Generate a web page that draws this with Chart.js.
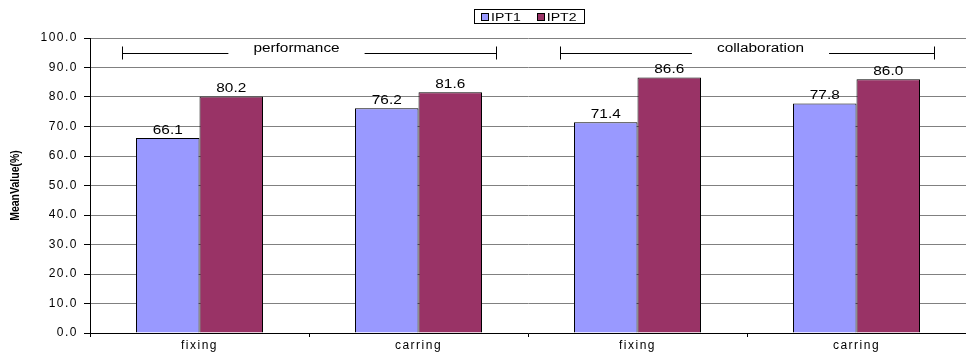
<!DOCTYPE html>
<html>
<head>
<meta charset="utf-8">
<script src="https://cdn.jsdelivr.net/npm/chart.js@4/dist/chart.umd.min.js"></script>
<style>
  html, body { margin: 0; padding: 0; background: #fff; overflow: hidden; }
  canvas { display: block; }
</style>
</head>
<body>
<canvas id="chart" width="966" height="354"></canvas>
<script>
// Mean values per task, before/after (IPT1 / IPT2)
const categories = ['fixing', 'carring', 'fixing', 'carring'];
const ipt1 = [66.1, 76.2, 71.4, 77.8];
const ipt2 = [80.2, 81.6, 86.6, 86.0];
const seriesNames = ['IPT1', 'IPT2'];
const groupNames = ['performance', 'collaboration'];
const groupSpans = [[0, 1], [2, 3]];
const yMin = 0, yMax = 100, yStep = 10;
const yTitle = 'MeanValue(%)';

const FONT = "'Liberation Sans', Arial, Helvetica, sans-serif";
const STRETCH = 1.28;              // glyphs are drawn a little wide
const COLORS = ['#9999FF', '#993366'];

function wideText(ctx, text, x, y, align, size, bold) {
  ctx.save();
  ctx.letterSpacing = '0px';
  ctx.font = (bold ? 'bold ' : '') + size + 'px ' + FONT;
  ctx.textAlign = 'left';
  ctx.textBaseline = 'alphabetic';
  const w = ctx.measureText(text).width * STRETCH;
  const x0 = align === 'center' ? x - w / 2 : align === 'right' ? x - w : x;
  ctx.translate(x0, y);
  ctx.scale(STRETCH, 1);
  ctx.fillStyle = '#000';
  ctx.fillText(text, 0, 0);
  ctx.restore();
  return w;
}

// Axis tick labels get extra tracking to match the wide lettering
const tracking = {
  id: 'tracking',
  beforeLayout(chart) { chart.ctx.letterSpacing = '1.5px'; },
  beforeDraw(chart) { chart.ctx.letterSpacing = '1.5px'; }
};

const annotate = {
  id: 'annotate',
  afterDatasetsDraw(chart, args, opts) {
    const ctx = chart.ctx;
    const xs = chart.scales.x, ys = chart.scales.y;

    // value labels above each bar
    chart.data.datasets.forEach((ds, i) => {
      chart.getDatasetMeta(i).data.forEach((bar, j) => {
        wideText(ctx, ds.data[j].toFixed(1), bar.x, bar.y - 4.5, 'center', 12);
      });
    });

    // group brackets
    const catW = xs.getPixelForValue(1) - xs.getPixelForValue(0);
    const lineY = Math.round(ys.getPixelForValue(opts.level)) + 0.5;
    ctx.save();
    ctx.strokeStyle = '#000';
    ctx.lineWidth = 1;
    groupNames.forEach((name, g) => {
      const [a, b] = groupSpans[g];
      const left = Math.round(xs.getPixelForValue(a) - catW / 2 + catW * opts.inset) + 0.5;
      const right = Math.round(xs.getPixelForValue(b) + catW / 2 - catW * opts.inset) + 0.5;
      const cx = (left + right) / 2 + opts.textShift[g];
      ctx.save(); ctx.letterSpacing = '0px'; ctx.font = '12px ' + FONT;
      const tw = ctx.measureText(name).width * STRETCH;
      ctx.restore();
      const gapL = cx - tw / 2 - opts.gap, gapR = cx + tw / 2 + opts.gap;
      ctx.beginPath();
      ctx.moveTo(left, lineY); ctx.lineTo(gapL, lineY);
      ctx.moveTo(gapR, lineY); ctx.lineTo(right, lineY);
      ctx.moveTo(left, lineY - 7); ctx.lineTo(left, lineY + 6);
      ctx.moveTo(right, lineY - 7); ctx.lineTo(right, lineY + 6);
      ctx.stroke();
      wideText(ctx, name, cx, lineY - 1.5, 'center', 12);
    });
    ctx.restore();
  },
  afterDraw(chart) {
    const ctx = chart.ctx;
    const area = chart.chartArea;

    // y-axis title
    ctx.save();
    ctx.letterSpacing = '0px';
    ctx.translate(16, (area.top + area.bottom) / 2);
    ctx.rotate(-Math.PI / 2);
    ctx.scale(1, 1.15);
    ctx.font = 'bold 10.5px ' + FONT;
    ctx.textAlign = 'center';
    ctx.textBaseline = 'middle';
    ctx.fillStyle = '#000';
    ctx.fillText(yTitle, 0, 0);
    ctx.restore();

    // legend box
    ctx.save();
    ctx.letterSpacing = '0px';
    ctx.font = '11px ' + FONT;
    let x = 481;
    const top = 9.5, h = 14;
    const items = chart.data.datasets.map((ds) => {
      const item = { x, color: ds.backgroundColor, label: ds.label };
      x += 7 + 3 + ctx.measureText(ds.label).width * STRETCH + 16;
      return item;
    });
    const boxRight = Math.round(x - 16 + 8) + 0.5;
    ctx.fillStyle = '#fff';
    ctx.fillRect(474.5, top, boxRight - 474.5, h);
    ctx.strokeStyle = '#000';
    ctx.lineWidth = 1;
    ctx.strokeRect(474.5, top, boxRight - 474.5, h);
    items.forEach(it => {
      const sx = Math.round(it.x) + 0.5;
      ctx.fillStyle = it.color;
      ctx.fillRect(sx, 13.5, 7, 7);
      ctx.strokeRect(sx, 13.5, 7, 7);
      wideText(ctx, it.label, it.x + 10, 21, 'left', 11);
    });
    ctx.restore();
  }
};

new Chart(document.getElementById('chart'), {
  type: 'bar',
  data: {
    labels: categories,
    datasets: [
      { label: seriesNames[0], data: ipt1, backgroundColor: COLORS[0], borderColor: '#000', borderWidth: 1 },
      { label: seriesNames[1], data: ipt2, backgroundColor: COLORS[1], borderColor: '#000', borderWidth: 1 }
    ]
  },
  options: {
    responsive: false,
    animation: false,
    devicePixelRatio: 1,
    categoryPercentage: 0.58,
    barPercentage: 1.0,
    layout: { padding: { top: 38, left: 0, right: 0, bottom: 0 } },
    plugins: {
      legend: { display: false },
      tooltip: { enabled: false },
      annotate: { level: 95, inset: 0.145, gap: 25, textShift: [-13, 13] }
    },
    scales: {
      x: {
        grid: { display: true, drawOnChartArea: false, offset: true, tickLength: 4, tickColor: '#000' },
        border: { color: '#000', width: 1 },
        ticks: { color: '#000', font: { family: FONT, size: 12 }, padding: 1, maxRotation: 0 },
        afterFit(scale) { scale.height = 21; }
      },
      y: {
        min: yMin,
        max: yMax,
        grid: { color: '#808080', lineWidth: 1, tickLength: 6, tickColor: '#000' },
        border: { color: '#000', width: 1 },
        ticks: {
          stepSize: yStep,
          color: '#000',
          font: { family: FONT, size: 12 },
          padding: 6,
          callback: v => Number(v).toFixed(1)
        },
        afterFit(scale) { scale.width = 90; }
      }
    }
  },
  plugins: [tracking, annotate]
});
</script>
</body>
</html>
